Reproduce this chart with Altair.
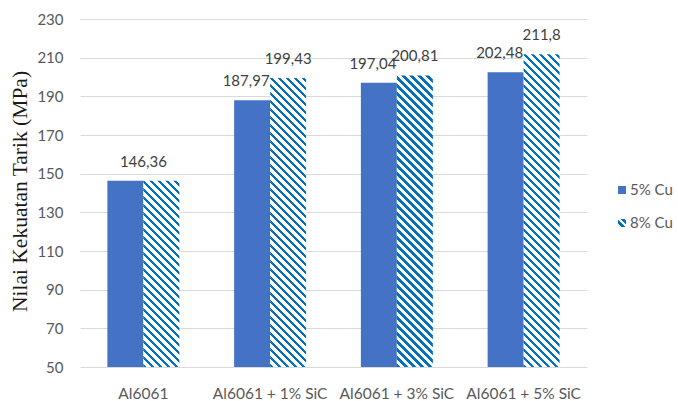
import math
import altair as alt
import pandas as pd

categories = ["Al6061", "Al6061 + 1% SiC", "Al6061 + 3% SiC", "Al6061 + 5% SiC"]
series = ["5% Cu", "8% Cu"]
cu5 = [146.36, 187.97, 197.04, 202.48]
cu8 = [146.36, 199.43, 200.81, 211.8]
y_ticks = [50, 70, 90, 110, 130, 150, 170, 190, 210, 230]

rows = []
for c, a, b in zip(categories, cu5, cu8):
    rows.append({"category": c, "series": series[0], "value": a, "label": str(a).replace(".", ",")})
    rows.append({"category": c, "series": series[1], "value": b, "label": str(b).replace(".", ",")})
df = pd.DataFrame(rows)

W, H = 507, 348
YMIN, YMAX = 50, 230
BLUE = "#4472C4"
HATCH = "#0070C0"
FONT = "Lato"
FS = 15
P_IN, P_OUT = 0.432, 0.216

step = W / (len(categories) - P_IN + 2 * P_OUT)
bar_w = step * (1 - P_IN) / 2


def stripe_stops(n_total, frac, start_white=False):
    stops = []
    k = 0
    while k < n_total:
        s0 = min(1.0, k / n_total)
        s1 = min(1.0, (k + frac) / n_total)
        s2 = min(1.0, (k + 1) / n_total)
        c1, c2 = (("white", HATCH) if start_white else (HATCH, "white"))
        stops += [
            alt.GradientStop(offset=round(s0, 5), color=c1),
            alt.GradientStop(offset=round(s1, 5), color=c1),
            alt.GradientStop(offset=round(s1, 5), color=c2),
            alt.GradientStop(offset=round(s2, 5), color=c2),
        ]
        k += 1
    return stops


def hatch_gradient(w, h, period=8.0, frac=0.42):
    alpha = (w + h) / (w * w + h * h)
    D = (w + h) / math.sqrt(2)
    p = period / math.sqrt(2)
    return alt.LinearGradient(
        gradient="linear", x1=0, y1=1,
        x2=round(alpha * w, 6), y2=round(1 - alpha * h, 6),
        stops=stripe_stops(D / p, frac),
    )


x = alt.X(
    "category:N", sort=categories,
    scale=alt.Scale(domain=categories, paddingInner=P_IN, paddingOuter=P_OUT),
    axis=alt.Axis(title=None, labelAngle=0, ticks=False, domain=False, grid=False,
                  labelFont=FONT, labelFontSize=15.5, labelColor="#595959", labelPadding=19),
)
xo = alt.XOffset("series:N", scale=alt.Scale(domain=series))
y = alt.Y(
    "value:Q",
    scale=alt.Scale(domain=[YMIN, YMAX], nice=False, zero=False),
    axis=alt.Axis(values=y_ticks, title="Nilai Kekuatan Tarik (MPa)", ticks=False, domain=False,
                  grid=True, gridColor="#D9D9D9", gridWidth=1.2,
                  labelFont=FONT, labelFontSize=FS, labelColor="#595959", labelPadding=17,
                  titleFont="Liberation Serif", titleFontSize=21.5, titleFontWeight="normal",
                  titleColor="#1a1a1a", titleX=-60, titleY=172, titleAngle=270,
                  titleAlign="center", titleBaseline="middle"),
)
y2 = alt.datum(YMIN)

base = alt.Chart(df)

solid = base.transform_filter(alt.datum.series == series[0]).mark_bar(color=BLUE).encode(
    x=x, xOffset=xo, y=y, y2=y2,
)

layers = [solid]
for c, v in zip(categories, cu8):
    h = (v - YMIN) / (YMAX - YMIN) * H
    layers.append(
        base.transform_filter((alt.datum.series == series[1]) & (alt.datum.category == c))
        .mark_bar(fill=hatch_gradient(bar_w, h), strokeWidth=0)
        .encode(x=x, xOffset=xo, y=y, y2=y2)
    )

text_kw = dict(font=FONT, fontSize=FS, color="#404040", baseline="middle", dy=-19)
lab5 = base.transform_filter(
    (alt.datum.series == series[0]) & (alt.datum.category != categories[0])
).mark_text(dx=-6, **text_kw).encode(x=x, xOffset=xo, y=y, text="label:N")
lab8 = base.transform_filter(
    (alt.datum.series == series[1]) & (alt.datum.category != categories[0])
).mark_text(**text_kw).encode(x=x, xOffset=xo, y=y, text="label:N")
lab0 = base.transform_filter(
    (alt.datum.series == series[0]) & (alt.datum.category == categories[0])
).mark_text(**text_kw).encode(x=x, y=y, text="label:N")

# manual legend
LX, LY, LGAP = 542, 171, 33
leg_df = pd.DataFrame({"series": series})
legend_fill = alt.LinearGradient(gradient="linear", x1=0, y1=1, x2=1, y2=0,
                                 stops=stripe_stops(2.2, 0.45, start_white=True))
leg_sym0 = alt.Chart(leg_df).transform_filter(alt.datum.series == series[0]).mark_square(
    size=64, fill=BLUE, opacity=1, strokeWidth=0).encode(x=alt.value(LX), y=alt.value(LY))
leg_sym1 = alt.Chart(leg_df).transform_filter(alt.datum.series == series[1]).mark_square(
    size=64, fill=legend_fill, opacity=1, strokeWidth=0).encode(x=alt.value(LX), y=alt.value(LY + LGAP))
leg_txt0 = alt.Chart(leg_df).transform_filter(alt.datum.series == series[0]).mark_text(
    align="left", baseline="middle", font=FONT, fontSize=FS, color="#595959").encode(
    x=alt.value(LX + 8), y=alt.value(LY), text="series:N")
leg_txt1 = alt.Chart(leg_df).transform_filter(alt.datum.series == series[1]).mark_text(
    align="left", baseline="middle", font=FONT, fontSize=FS, color="#595959").encode(
    x=alt.value(LX + 8), y=alt.value(LY + LGAP), text="series:N")

chart = alt.layer(*layers, lab5, lab8, lab0, leg_sym0, leg_sym1, leg_txt0, leg_txt1).properties(
    width=W, height=H,
    autosize=alt.AutoSizeParams(type="none"),
    padding={"left": 80, "top": 19, "right": 91, "bottom": 34},
    background="white",
).configure_view(stroke=None)

chart.save("out.html", embed_options={"renderer": "svg", "actions": False})
